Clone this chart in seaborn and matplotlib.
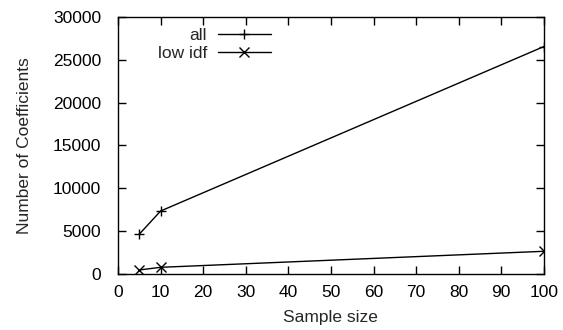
import pandas as pd
import seaborn as sns
import matplotlib.pyplot as plt

sample_size = [5, 10, 100]
all_coef = [4650, 7350, 26550]
low_idf_coef = [470, 780, 2650]

sns.set_style('ticks')
plt.rcParams['font.family'] = ['Liberation Sans', 'DejaVu Sans']
fs = 12.5

df = pd.DataFrame({'size': sample_size * 2,
                   'coef': all_coef + low_idf_coef,
                   'kind': ['all'] * 3 + ['low idf'] * 3})

fig = plt.figure(figsize=(5.63, 3.3), dpi=100)
ax = fig.add_axes([0.2096, 0.1697, 0.7564, 0.7788])

sns.lineplot(data=df, x='size', y='coef', style='kind', markers={'all': '+', 'low idf': 'x'},
             dashes=False, color='black', linewidth=1, markersize=7, markeredgewidth=1,
             markeredgecolor='black', ax=ax)

ax.set_xlim(0, 100)
ax.set_ylim(0, 30000)
ax.set_xticks(range(0, 101, 10))
ax.set_yticks(range(0, 30001, 5000))
ax.tick_params(direction='in', length=6, width=1, top=True, right=True, colors='black',
               labelsize=fs, pad=8)
ax.tick_params(axis='y', pad=12)
for s in ax.spines.values():
    s.set_visible(True)
    s.set_linewidth(1)
    s.set_color('black')

ax.set_xlabel('Sample size', fontsize=fs, labelpad=7)
ax.set_ylabel('Number of Coefficients', fontsize=fs, labelpad=15)

ax.legend(loc='upper left', bbox_to_anchor=(0.073, 0.99), frameon=False, markerfirst=False,
          handlelength=3.1, fontsize=fs, borderpad=0, labelspacing=0.15, handletextpad=0.6)

fig.savefig('out.png', dpi=100)
